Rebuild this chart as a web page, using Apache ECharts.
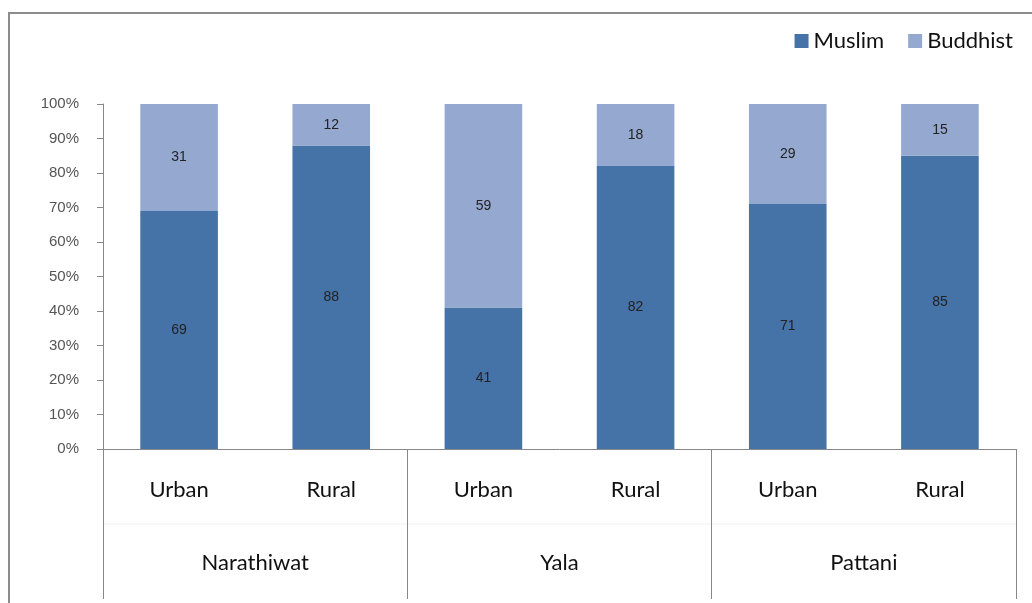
<!DOCTYPE html>
<html>
<head>
<meta charset="utf-8">
<script src="https://cdn.jsdelivr.net/npm/echarts@6/dist/echarts.min.js"></script>
<style>
  html, body { margin: 0; padding: 0; background: #fff; }
  #chart { width: 1032px; height: 603px; }
</style>
</head>
<body>
<div id="chart"></div>
<script>
const areas = ['Urban', 'Rural', 'Urban', 'Rural', 'Urban', 'Rural'];
const provinces = ['Narathiwat', 'Yala', 'Pattani'];
const muslim = [69, 88, 41, 82, 71, 85];
const buddhist = [31, 12, 59, 18, 29, 15];

const chart = echarts.init(document.getElementById('chart'));

const labelStyle = {
  show: true,
  position: 'inside',
  color: '#222',
  fontSize: 14,
  fontFamily: 'Liberation Sans'
};

const option = {
  animation: false,
  textStyle: { fontFamily: 'Lato' },
  // outer frame of the original chart, cut off at right and bottom
  graphic: [
    {
      type: 'rect',
      shape: { x: 9, y: 13, width: 1100, height: 700 },
      style: { fill: 'none', stroke: '#8c8c8c', lineWidth: 2 },
      silent: true
    },
    {
      type: 'line',
      shape: { x1: 103, y1: 524, x2: 1016, y2: 524 },
      style: { stroke: '#f0f0f0', lineWidth: 1 },
      silent: true
    }
  ],
  legend: {
    right: 14,
    top: 25,
    icon: 'rect',
    itemWidth: 14,
    itemHeight: 14,
    itemGap: 24,
    textStyle: { fontSize: 22, color: '#111', fontFamily: 'Lato' },
    data: ['Muslim', 'Buddhist']
  },
  grid: { left: 103, right: 16, top: 104, bottom: 154 },
  xAxis: [
    {
      type: 'category',
      data: areas,
      axisLine: { show: true, lineStyle: { color: '#888', width: 1 } },
      axisTick: { show: false },
      axisLabel: { margin: 30, fontSize: 22, color: '#111', fontFamily: 'Lato' }
    },
    {
      type: 'category',
      data: provinces,
      position: 'bottom',
      axisLine: { show: false },
      axisTick: { show: true, length: 150, lineStyle: { color: '#888' } },
      axisLabel: { margin: 103, fontSize: 22, color: '#111', fontFamily: 'Lato' }
    }
  ],
  yAxis: {
    type: 'value',
    min: 0,
    max: 100,
    interval: 10,
    splitLine: { show: false },
    axisLine: { show: true, lineStyle: { color: '#888' } },
    axisTick: { show: true, length: 6, lineStyle: { color: '#888' } },
    axisLabel: {
      formatter: '{value}%',
      margin: 24,
      fontSize: 15,
      color: '#555',
      fontFamily: 'Liberation Sans'
    }
  },
  series: [
    {
      name: 'Muslim',
      type: 'bar',
      stack: 'share',
      barWidth: '51%',
      itemStyle: { color: '#4572a7' },
      label: labelStyle,
      data: muslim
    },
    {
      name: 'Buddhist',
      type: 'bar',
      stack: 'share',
      barWidth: '51%',
      itemStyle: { color: '#95a9d0' },
      label: labelStyle,
      data: buddhist
    }
  ]
};

chart.setOption(option);
</script>
</body>
</html>
